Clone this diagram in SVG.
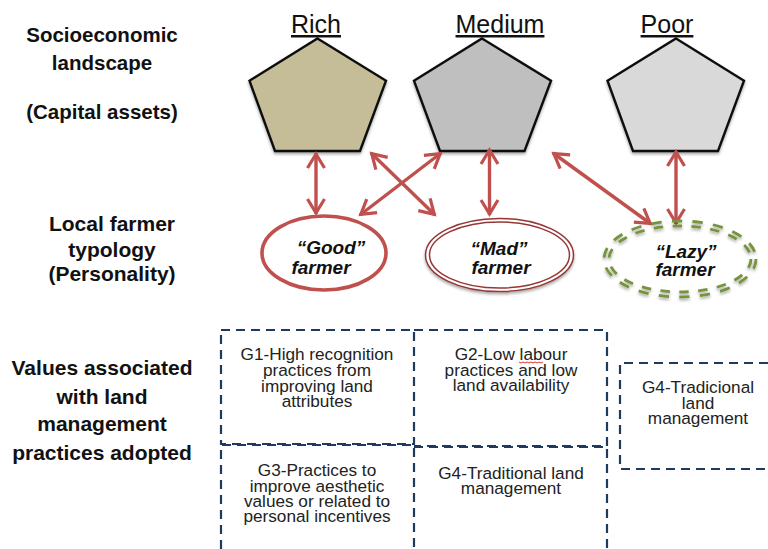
<svg xmlns="http://www.w3.org/2000/svg" width="768" height="549" viewBox="0 0 768 549">
<style>
text{font-family:"Liberation Sans",Arial,sans-serif;fill:#111;text-anchor:middle}
.h{font-size:25px;text-decoration:underline}
.l{font-size:20.5px;font-weight:bold}
.m{font-size:21px;font-weight:bold}
.f{font-size:19px;font-weight:bold;font-style:italic}
.b{font-size:17.2px;fill:#222}
.p{stroke:#111;stroke-width:2.4;stroke-linejoin:miter;filter:url(#s)}
.a{fill:none;stroke:#c0504d;stroke-width:3.4;marker-start:url(#m);marker-end:url(#m)}
.d{fill:none;stroke:#1f3a5f;stroke-width:2.2;stroke-dasharray:9 6}
</style>
<defs>
<filter id="s" x="-10%" y="-10%" width="120%" height="125%"><feDropShadow dx="0" dy="2" stdDeviation="1.5" flood-color="#000" flood-opacity=".35"/></filter>
<marker id="m" markerUnits="userSpaceOnUse" markerWidth="28" markerHeight="28" refX="22" refY="14" orient="auto-start-reverse"><path d="M7 5.5L21 14L7 22.5" fill="none" stroke="#c0504d" stroke-width="3.2"/></marker>
</defs>
<g id="labels">
<text class="l" x="102" y="42">Socioeconomic</text>
<text class="l" x="102" y="70">landscape</text>
<text class="l" x="102" y="119">(Capital assets)</text>
<text class="m" x="112" y="231">Local farmer</text>
<text class="m" x="112" y="257">typology</text>
<text class="m" x="112" y="281">(Personality)</text>
<text class="m" x="102" y="375">Values associated</text>
<text class="m" x="102" y="404">with land</text>
<text class="m" x="102" y="431">management</text>
<text class="m" x="102" y="460">practices adopted</text>
</g>
<g id="rich"><polygon class="p" fill="#c4bd97" points="317.5,38.5 386,80.7 360,151 275,151 249.5,80.7"/><text class="h" x="316" y="33">Rich</text></g>
<g id="medium"><polygon class="p" fill="#bfbfbf" points="482,38.5 551,80.7 524.5,151 440,151 414,80.7"/><text class="h" x="500" y="33">Medium</text></g>
<g id="poor"><polygon class="p" fill="#d9d9d9" points="676,38.5 744,80.7 718,151 633,151 607.5,80.7"/><text class="h" x="667" y="33">Poor</text></g>
<g id="connectors">
<line class="a" x1="316" y1="153" x2="316" y2="214"/>
<line class="a" x1="371" y1="153" x2="435" y2="215"/>
<line class="a" x1="441" y1="153" x2="360" y2="215"/>
<line class="a" x1="489.5" y1="149" x2="489.5" y2="215"/>
<line class="a" x1="553" y1="153" x2="651" y2="224"/>
<line class="a" x1="676" y1="151" x2="676" y2="224"/>
</g>
<g id="good"><ellipse cx="324" cy="253" rx="62" ry="37" fill="#fff" stroke="#c0504d" stroke-width="3.6"/><text class="f" x="331" y="254">“Good”</text><text class="f" x="321" y="274">farmer</text></g>
<g id="mad"><ellipse cx="499.5" cy="255" rx="74" ry="36.5" fill="#fff" stroke="#953735" stroke-width="1.5" filter="url(#s)"/><ellipse cx="499.5" cy="255" rx="70" ry="33" fill="none" stroke="#953735" stroke-width="1.5"/><text class="f" x="499" y="255">“Mad”</text><text class="f" x="501" y="274">farmer</text></g>
<g id="lazy"><g fill="none" stroke="#77933c" stroke-width="2.8" stroke-dasharray="2.8 2.8" filter="url(#s)"><ellipse cx="680" cy="259" rx="76" ry="38" pathLength="100"/><ellipse cx="680" cy="259" rx="71" ry="33" pathLength="100"/></g><text class="f" x="686" y="258">“Lazy”</text><text class="f" x="685" y="276">farmer</text></g>
<g id="g1"><rect class="d" x="221" y="330" width="193" height="114"/><text class="b"><tspan x="317" y="360">G1-High recognition</tspan><tspan x="317" y="376">practices from</tspan><tspan x="317" y="392">improving land</tspan><tspan x="317" y="407">attributes</tspan></text></g>
<g id="g2"><path class="d" d="M414 330H607V446H414"/><text class="b"><tspan x="511" y="360">G2-Low labour</tspan><tspan x="511" y="376">practices and low</tspan><tspan x="511" y="391">land availability</tspan></text><path d="M519 362l2 1 2-1 2 1 2-1 2 1 2-1 2 1 2-1 2 1 2-1 2 1 2-1" fill="none" stroke="#d33" stroke-width="1"/></g>
<g id="g3"><path class="d" d="M221 549V445H414V549"/><text class="b"><tspan x="317" y="476">G3-Practices to</tspan><tspan x="317" y="492">improve aesthetic</tspan><tspan x="317" y="507">values or related to</tspan><tspan x="317" y="522">personal incentives</tspan></text></g>
<g id="g4a"><path class="d" d="M414 447H607V549"/><text class="b"><tspan x="511" y="479">G4-Traditional land</tspan><tspan x="511" y="494">management</tspan></text></g>
<g id="g4b"><path class="d" d="M768 363H620V469H768"/><text class="b"><tspan x="698" y="393">G4-Tradicional</tspan><tspan x="698" y="409">land</tspan><tspan x="698" y="424">management</tspan></text></g>
</svg>
